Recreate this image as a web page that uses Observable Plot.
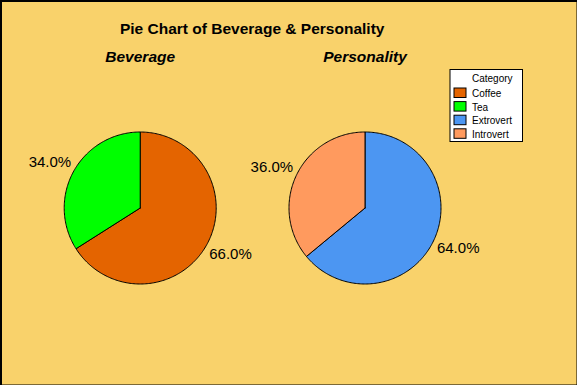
<!DOCTYPE html>
<html>
<head>
<meta charset="utf-8">
<script src="https://cdn.jsdelivr.net/npm/d3@7"></script>
<script src="https://cdn.jsdelivr.net/npm/@observablehq/plot@0.6"></script>
<style>
  html, body { margin: 0; padding: 0; background: #F9D26B; }
  #chart svg { display: block; }
</style>
</head>
<body>
<div id="chart"></div>
<script>
// ---- Data ----
const chartTitle = "Pie Chart of Beverage & Personality";
const pieTitles = ["Beverage", "Personality"];
const beverageCategories = ["Coffee", "Tea"];
const beverageValues = [66, 34];
const personalityCategories = ["Extrovert", "Introvert"];
const personalityValues = [64, 36];
const legendTitle = "Category";
const legendCategories = ["Coffee", "Tea", "Extrovert", "Introvert"];
const categoryColors = ["#E46400", "#00FF00", "#4C96F2", "#FF9A5E"];

// ---- Layout ----
const W = 577, H = 385;
const bg = "#F9D26B";
const pieCenters = [[139.7, 207.5], [364.5, 207.5]];
const R = 76;
const labelRx = 103, labelRy = 95;
const font = "Liberation Sans, Arial, sans-serif";

const pies = [
  {title: pieTitles[0], cats: beverageCategories, vals: beverageValues},
  {title: pieTitles[1], cats: personalityCategories, vals: personalityValues}
];

const slicePts = [];
const labels = [];
const pieGen = d3.pie().sort(null).value(d => d.value);
pies.forEach((p, pi) => {
  const [cx, cy] = pieCenters[pi];
  const total = d3.sum(p.vals);
  const arcs = pieGen(p.cats.map((c, i) => ({category: c, value: p.vals[i]})));
  arcs.forEach(a => {
    const key = p.title + "-" + a.data.category;
    const n = Math.max(2, Math.ceil((a.endAngle - a.startAngle) / (Math.PI / 180)));
    slicePts.push({key, category: a.data.category, x: cx, y: cy});
    for (let k = 0; k <= n; k++) {
      const t = a.startAngle + (a.endAngle - a.startAngle) * k / n;
      slicePts.push({key, category: a.data.category, x: cx + R * Math.sin(t), y: cy - R * Math.cos(t)});
    }
    slicePts.push({key, category: a.data.category, x: cx, y: cy});
    const m = (a.startAngle + a.endAngle) / 2;
    labels.push({
      text: (100 * a.data.value / total).toFixed(1) + "%",
      x: cx + labelRx * Math.sin(m),
      y: cy - labelRy * Math.cos(m)
    });
  });
});

const titles = pies.map((p, i) => ({text: p.title, x: pieCenters[i][0]}));

// legend layout
const lgX1 = 450, lgX2 = 522.5, lgY1 = 69.5, lgY2 = 141.5;
const legendRows = legendCategories.map((c, i) => ({category: c, y: 88 + i * 13.6}));

const chart = Plot.plot({
  width: W,
  height: H,
  margin: 0,
  style: {backgroundColor: bg, fontFamily: font, overflow: "visible"},
  x: {domain: [0, W], range: [0, W], axis: null},
  y: {domain: [0, H], range: [0, H], axis: null},
  color: {domain: legendCategories, range: categoryColors},
  marks: [
    Plot.line(slicePts, {x: "x", y: "y", z: "key", fill: "category", stroke: "black", strokeWidth: 1, curve: "linear"}),
    Plot.text([chartTitle], {x: W * 0 + 251.7, y: 33, text: d => d, fontSize: 15.5, fontWeight: "bold", fill: "black", lineAnchor: "bottom", textAnchor: "middle"}),
    Plot.text(titles, {x: "x", y: 61.5, text: "text", fontSize: 15.5, fontWeight: "bold", fontStyle: "italic", fill: "black", lineAnchor: "bottom", textAnchor: "middle"}),
    Plot.text(labels, {x: "x", y: "y", text: "text", fontSize: 15, fill: "black", textAnchor: "middle", lineAnchor: "middle"}),
    // legend
    Plot.rect([0], {x1: lgX1, x2: lgX2, y1: lgY1, y2: lgY2, fill: "white", stroke: "black", strokeWidth: 1}),
    Plot.text([legendTitle], {x: 471.5, y: 81.5, text: d => d, fontSize: 10, fill: "black", textAnchor: "start", lineAnchor: "bottom"}),
    Plot.rect(legendRows, {x1: 454, x2: 466, y1: d => d.y, y2: d => d.y + 9.5, fill: "category", stroke: "black", strokeWidth: 1}),
    Plot.text(legendRows, {x: 471.5, y: d => d.y + 8.5, text: "category", fontSize: 10, fill: "black", textAnchor: "start", lineAnchor: "bottom"}),
    Plot.frame({stroke: "black", strokeWidth: 2, insetLeft: 0.5, insetTop: 0.5})
  ]
});
document.getElementById("chart").appendChild(chart);
</script>
</body>
</html>
